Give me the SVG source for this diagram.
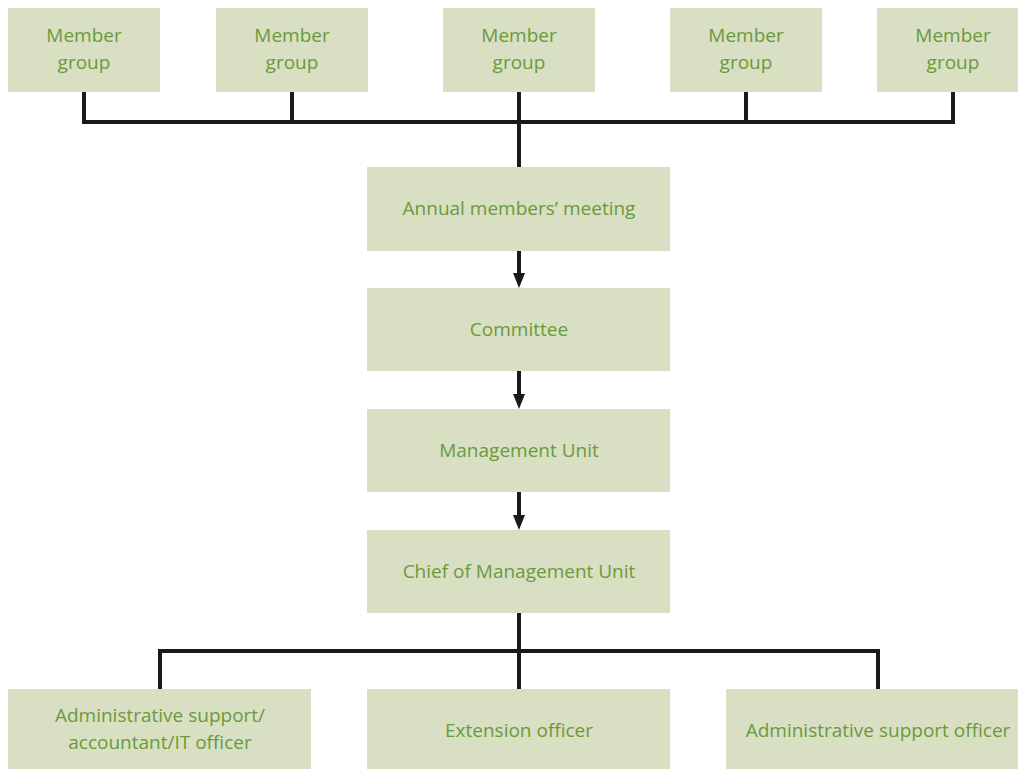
<svg xmlns="http://www.w3.org/2000/svg" width="1018" height="769" viewBox="0 0 1018 769">
<style>
.box{fill:#d9dfc3}
.t{font-family:"Open Sans","Noto Sans",sans-serif;font-size:19px;fill:#6a9a3a;text-anchor:middle}
.c{stroke:#1a1a1a;stroke-width:4;fill:none}
.ah{fill:#1a1a1a}
</style>
<g id="connectors">
<path class="c" d="M84,92 V122 M292,92 V122 M519,92 V167 M746,92 V122 M953,92 V122 M82,122 H955"/>
<path class="c" d="M519,251 V273"/>
<path class="ah" d="M513,273 L525,273 L519,288 Z"/>
<path class="c" d="M519,371 V394"/>
<path class="ah" d="M513,394 L525,394 L519,409 Z"/>
<path class="c" d="M519,492 V515"/>
<path class="ah" d="M513,515 L525,515 L519,530 Z"/>
<path class="c" d="M519,613 V689 M160,689 V651 H878 V689"/>
</g>
<g id="mg1"><rect class="box" x="8" y="8" width="152" height="84"/><text class="t" x="84" y="42">Member</text><text class="t" x="84" y="69">group</text></g>
<g id="mg2"><rect class="box" x="216" y="8" width="152" height="84"/><text class="t" x="292" y="42">Member</text><text class="t" x="292" y="69">group</text></g>
<g id="mg3"><rect class="box" x="443" y="8" width="152" height="84"/><text class="t" x="519" y="42">Member</text><text class="t" x="519" y="69">group</text></g>
<g id="mg4"><rect class="box" x="670" y="8" width="152" height="84"/><text class="t" x="746" y="42">Member</text><text class="t" x="746" y="69">group</text></g>
<g id="mg5"><rect class="box" x="877" y="8" width="152" height="84"/><text class="t" x="953" y="42">Member</text><text class="t" x="953" y="69">group</text></g>
<g id="annual"><rect class="box" x="367" y="167" width="303" height="84"/><text class="t" x="519" y="215">Annual members’ meeting</text></g>
<g id="committee"><rect class="box" x="367" y="288" width="303" height="83"/><text class="t" x="519" y="336">Committee</text></g>
<g id="mgmt"><rect class="box" x="367" y="409" width="303" height="83"/><text class="t" x="519" y="457">Management Unit</text></g>
<g id="chief"><rect class="box" x="367" y="530" width="303" height="83"/><text class="t" x="519" y="578">Chief of Management Unit</text></g>
<g id="admin1"><rect class="box" x="8" y="689" width="303" height="80"/><text class="t" x="160" y="722">Administrative support/</text><text class="t" x="160" y="749">accountant/IT officer</text></g>
<g id="ext"><rect class="box" x="367" y="689" width="303" height="80"/><text class="t" x="519" y="737">Extension officer</text></g>
<g id="admin2"><rect class="box" x="726" y="689" width="303" height="80"/><text class="t" x="878" y="737">Administrative support officer</text></g>
</svg>
